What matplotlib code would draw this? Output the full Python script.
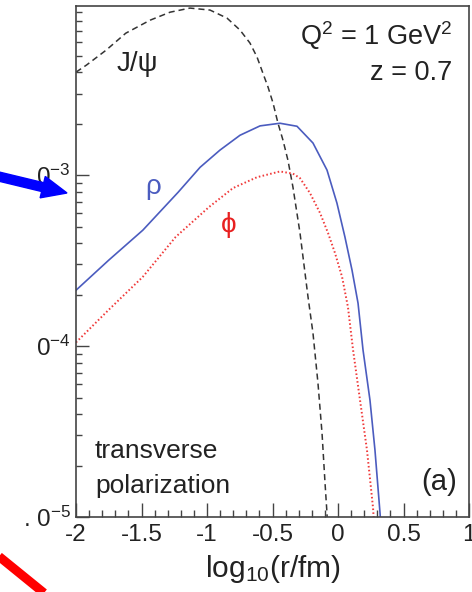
import matplotlib
matplotlib.use('Agg')
import matplotlib.pyplot as plt
from matplotlib.patches import FancyArrow
from matplotlib.lines import Line2D
from matplotlib.ticker import LogLocator, NullFormatter, FixedLocator, MultipleLocator
import numpy as np

plt.rcParams['font.family'] = ['Liberation Sans', 'DejaVu Sans']
plt.rcParams['mathtext.fontset'] = 'custom'
plt.rcParams['mathtext.rm'] = 'Liberation Sans'
plt.rcParams['mathtext.it'] = 'Liberation Sans:italic'
plt.rcParams['mathtext.bf'] = 'Liberation Sans:bold'

# J/psi (dashed black)
x_jpsi = [-2.0, -1.92, -1.77, -1.62, -1.435, -1.282, -1.13, -0.977, -0.847, -0.748,
          -0.672, -0.618, -0.573, -0.534, -0.496, -0.458, -0.420, -0.382, -0.344,
          -0.290, -0.229, -0.191, -0.153, -0.122, -0.099, -0.084, -0.07]
y_jpsi = [4.00e-3, 4.40e-3, 5.38e-3, 6.76e-3, 8.05e-3, 8.97e-3, 9.48e-3, 9.23e-3, 8.28e-3,
          7.05e-3, 5.92e-3, 4.90e-3, 3.94e-3, 3.27e-3, 2.64e-3, 2.01e-3, 1.60e-3, 1.22e-3,
          8.51e-4, 4.58e-4, 1.94e-4, 1.19e-4, 6.08e-5, 3.10e-5, 1.58e-5, 1.05e-5, 5.0e-6]

# rho (solid blue)
x_rho = [-2.0, -1.75, -1.49, -1.22, -1.053, -0.901, -0.748, -0.595, -0.443, -0.313,
         -0.191, -0.084, -0.008, 0.053, 0.107, 0.153, 0.191, 0.244, 0.282, 0.321, 0.34]
y_rho = [2.12e-4, 3.18e-4, 4.76e-4, 7.94e-4, 1.11e-3, 1.40e-3, 1.71e-3, 1.94e-3, 2.01e-3,
         1.93e-3, 1.54e-3, 1.07e-3, 6.85e-4, 4.34e-4, 2.78e-4, 1.78e-4, 9.48e-5, 4.83e-5,
         2.47e-5, 1.05e-5, 6.3e-6]

# phi (dotted red)
x_phi = [-2.0, -1.75, -1.49, -1.24, -0.985, -0.802, -0.618, -0.443, -0.344, -0.290,
         -0.214, -0.137, -0.076, -0.023, 0.031, 0.076, 0.115, 0.168, 0.221, 0.267, 0.29]
y_phi = [1.05e-4, 1.63e-4, 2.54e-4, 4.34e-4, 6.50e-4, 8.39e-4, 9.72e-4, 1.05e-3, 1.02e-3,
         9.59e-4, 7.85e-4, 6.0e-4, 4.58e-4, 3.50e-4, 2.54e-4, 1.69e-4, 9.48e-5, 4.83e-5,
         2.47e-5, 1.14e-5, 6.3e-6]

xticks = [-2, -1.5, -1, -0.5, 0, 0.5, 1]
xticklabels = ['-2', '-1.5', '-1', '-0.5', '0', '0.5', '1']
yticks = [1e-5, 1e-4, 1e-3]
yticklabels = ['. 0$^{-5}$', '0$^{-4}$', '0$^{-3}$']

fig = plt.figure(figsize=(4.72, 5.92), dpi=100)
ax = fig.add_axes([76/472, 1 - 517/592, 393/472, 511/592])

ax.plot(x_jpsi, y_jpsi, color='#333333', lw=1.1, ls=(0, (4, 2.6)))
ax.plot(x_rho, y_rho, color='#4b5cbf', lw=1.2)
ax.plot(x_phi, y_phi, color='#f03a3a', lw=1.4, ls=(0, (0.8, 1.2)))

ax.set_yscale('log')
ax.set_xlim(-2, 1)
ax.set_ylim(1e-5, 9.75e-3)

ax.xaxis.set_major_locator(FixedLocator(xticks))
ax.set_xticklabels(xticklabels)
ax.xaxis.set_minor_locator(MultipleLocator(0.1))
ax.yaxis.set_major_locator(FixedLocator(yticks))
ax.set_yticklabels(yticklabels)
ax.yaxis.set_minor_locator(LogLocator(base=10, subs=np.arange(2, 10)))
ax.yaxis.set_minor_formatter(NullFormatter())

ax.tick_params(axis='both', which='both', direction='in', top=False, right=False,
               colors='#444444', labelcolor='#222222', labelsize=17.5)
ax.tick_params(axis='x', which='major', length=10, width=1.0, pad=5)
ax.tick_params(axis='x', which='minor', length=5, width=1.0)
ax.tick_params(axis='y', which='major', length=9, width=1.0, pad=4)
ax.tick_params(axis='y', which='minor', length=4.5, width=1.0)
for s in ax.spines.values():
    s.set_color('#444444')
    s.set_linewidth(1.2)

ax.set_xlabel('log$_{10}$(r/fm)', fontsize=21.5, color='#222222', labelpad=5)

ax.text(-1.53, 4.46e-3, 'J/ψ', fontsize=20, color='#222222', ha='center', va='center')
ax.text(-1.41, 8.5e-4, 'ρ', fontsize=20, color='#4b5cbf', ha='center', va='center')
ax.text(-0.832, 5.1e-4, 'ϕ', fontsize=20, color='#e82020', ha='center', va='center')

ax.text(0.957, 0.924, 'Q$^2$ = 1 GeV$^2$', transform=ax.transAxes, fontsize=19.5,
        color='#222222', ha='right', va='baseline')
ax.text(0.957, 0.855, 'z = 0.7', transform=ax.transAxes, fontsize=19.5,
        color='#222222', ha='right', va='baseline')
ax.text(0.048, 0.115, 'transverse', transform=ax.transAxes, fontsize=19,
        color='#222222', ha='left', va='baseline')
ax.text(0.048, 0.047, 'polarization', transform=ax.transAxes, fontsize=19,
        color='#222222', ha='left', va='baseline')
ax.text(0.969, 0.068, '(a)', transform=ax.transAxes, fontsize=21,
        color='#222222', ha='right', va='center')

# overlay marks from the page (pixel positions -> inches)
fig.add_artist(FancyArrow(-0.20, (592 - 172) / 100, 0.87, -0.21, width=0.09,
                          head_width=0.22, head_length=0.25, length_includes_head=True,
                          color='#0000ff', transform=fig.dpi_scale_trans))
fig.add_artist(Line2D([-0.2, 0.6], [(592 - 541) / 100, (592 - 606) / 100],
                      color='#ff0000', lw=6.5, solid_capstyle='butt',
                      transform=fig.dpi_scale_trans))

fig.savefig('out.png', dpi=100)
